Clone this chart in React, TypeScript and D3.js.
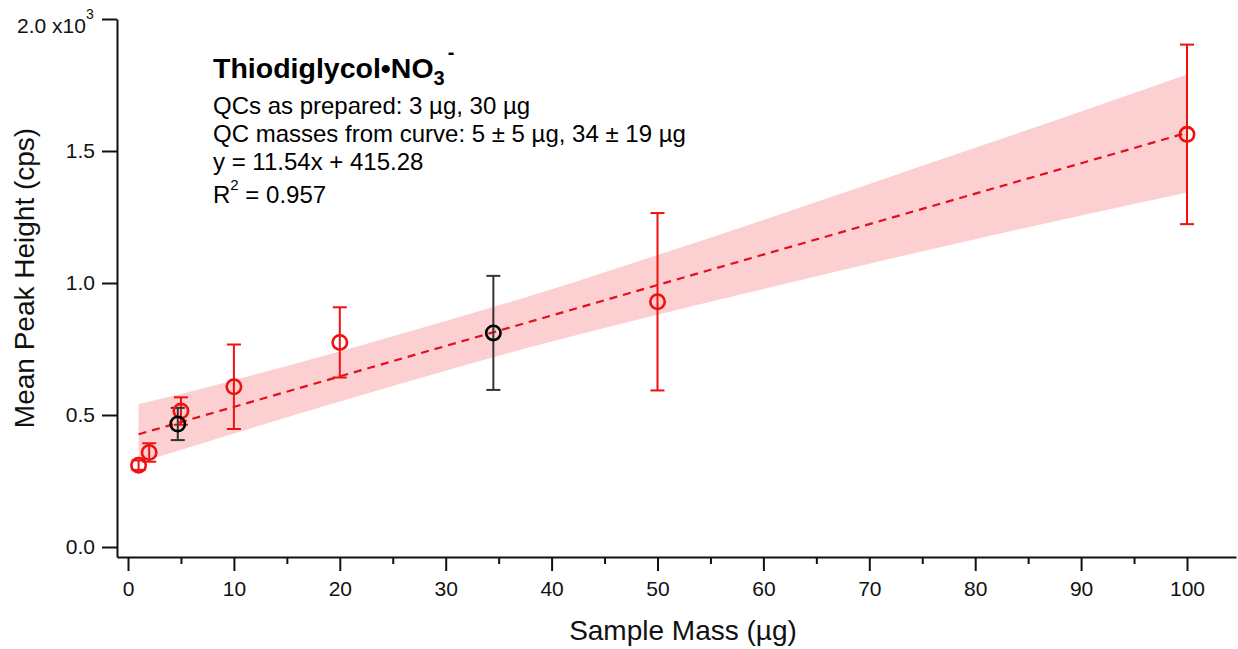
import React, { useRef, useEffect } from "react";
import * as d3 from "d3";

// calibration points (red)
const massX = [1, 2, 5, 10, 20, 50, 100];
const meanY = [310, 358, 515, 607, 775, 929, 1563];
const errY = [18, 35, 52, 160, 133, 336, 340];

// QC samples (black), plotted at mass from curve
const qcX = [4.7, 34.5];
const qcY = [466, 811];
const qcErr = [61, 216];

// fit line end points and confidence band
const fitX = [1, 100];
const fitY = [427, 1569];
const bandX = [1, 5, 10, 20, 30, 40, 50, 60, 70, 80, 90, 100];
const bandUpper = [542, 580, 632, 741, 856, 976, 1106, 1239, 1375, 1512, 1650, 1790];
const bandLower = [320, 367, 430, 551, 668, 778, 880, 977, 1073, 1166, 1256, 1343];

const xTicks = [0, 10, 20, 30, 40, 50, 60, 70, 80, 90, 100];
const xMinor = [5, 15, 25, 35, 45, 55, 65, 75, 85, 95];
const yTicks = [0, 500, 1000, 1500, 2000];

const FONT = "'Liberation Sans', Arial, sans-serif";

function CalibrationChart() {
    const xAxisRef = useRef(null);
    const xMinorRef = useRef(null);
    const yAxisRef = useRef(null);

    const width = 1238;
    const height = 649;
    const left = 117;
    const right = 1236;
    const top = 19;
    const bottom = 557;

    const x = d3.scaleLinear().domain([0, 100]).range([128, 1187]);
    const y = d3.scaleLinear().domain([0, 2000]).range([547, 19]);

    useEffect(() => {
        let xa = x.copy().domain([x.invert(left), x.invert(right)]).range([left, right]);
        let ya = y.copy().domain([y.invert(bottom), 2000]).range([bottom, top]);

        let gx = d3.select(xAxisRef.current);
        gx.selectAll("*").remove();
        gx.call(
            d3.axisBottom(xa).tickValues(xTicks).tickSize(14).tickPadding(10).tickSizeOuter(0)
        );
        gx.selectAll("text").attr("font-size", 21).attr("font-family", FONT).attr("fill", "#111");
        gx.selectAll("line").attr("stroke-width", 2).attr("stroke", "#111");
        gx.select(".domain").attr("stroke-width", 2).attr("stroke", "#111");

        let gm = d3.select(xMinorRef.current);
        gm.selectAll("*").remove();
        gm.call(d3.axisBottom(xa).tickValues(xMinor).tickSize(7).tickFormat(() => ""));
        gm.select(".domain").remove();
        gm.selectAll("line").attr("stroke-width", 2).attr("stroke", "#111");

        let gy = d3.select(yAxisRef.current);
        gy.selectAll("*").remove();
        gy.call(
            d3
                .axisLeft(ya)
                .tickValues(yTicks)
                .tickSize(15)
                .tickPadding(7)
                .tickSizeOuter(0)
                .tickFormat((d) => (d === 2000 ? "" : (d / 1000).toFixed(1)))
        );
        gy.selectAll("text").attr("font-size", 21).attr("font-family", FONT).attr("fill", "#111");
        gy.selectAll("line").attr("stroke-width", 2).attr("stroke", "#111");
        gy.select(".domain").attr("stroke-width", 2).attr("stroke", "#111");
    }, []);

    const band = d3
        .area()
        .x((d) => x(d[0]))
        .y0((d) => y(d[1]))
        .y1((d) => y(d[2]))
        .curve(d3.curveMonotoneX);
    const bandData = bandX.map((v, i) => [v, bandLower[i], bandUpper[i]]);

    const cap = 7;

    const errorBar = (cx, cy, e, color, key) => (
        <g key={key} stroke={color} strokeWidth={2} fill="none">
            <line x1={x(cx)} x2={x(cx)} y1={y(cy - e)} y2={y(cy + e)} />
            <line x1={x(cx) - cap} x2={x(cx) + cap} y1={y(cy + e)} y2={y(cy + e)} />
            <line x1={x(cx) - cap} x2={x(cx) + cap} y1={y(cy - e)} y2={y(cy - e)} />
        </g>
    );

    return (
        <svg width={width} height={height} style={{ display: "block" }}>
            <rect width={width} height={height} fill="#fff" />

            <path d={band(bandData)} fill="#fcd0d0" stroke="none" />

            <line
                x1={x(fitX[0])}
                y1={y(fitY[0])}
                x2={x(fitX[1])}
                y2={y(fitY[1])}
                stroke="#e0101f"
                strokeWidth={2.2}
                strokeDasharray="8,6"
            />

            {massX.map((v, i) => errorBar(v, meanY[i], errY[i], "#f01010", "e" + i))}
            {qcX.map((v, i) => errorBar(v, qcY[i], qcErr[i], "#333", "q" + i))}

            {massX.map((v, i) => (
                <circle
                    key={"c" + i}
                    cx={x(v)}
                    cy={y(meanY[i])}
                    r={7.2}
                    fill="none"
                    stroke="#f01010"
                    strokeWidth={2.6}
                />
            ))}
            {qcX.map((v, i) => (
                <circle
                    key={"k" + i}
                    cx={x(v)}
                    cy={y(qcY[i])}
                    r={7.2}
                    fill="none"
                    stroke="#000"
                    strokeWidth={2.6}
                />
            ))}

            <g ref={xAxisRef} transform={`translate(0,${bottom})`} />
            <g ref={xMinorRef} transform={`translate(0,${bottom})`} />
            <g ref={yAxisRef} transform={`translate(${left},0)`} />

            {/* top tick label with exponent */}
            <text x={17} y={33} fontFamily={FONT} fontSize={21} fill="#111">
                2.0 x10
                <tspan fontSize={14} dy={-14}>3</tspan>
            </text>

            {/* annotation */}
            <g fontFamily={FONT} fill="#000">
                <text x={213} y={78} fontSize={28.5} fontWeight="bold">
                    Thiodiglycol•NO
                    <tspan fontSize={20} dy={7}>3</tspan>
                    <tspan fontSize={20} dy={-26} dx={3}>-</tspan>
                </text>
                <text x={213} y={114} fontSize={24}>QCs as prepared: 3 µg, 30 µg</text>
                <text x={213} y={142} fontSize={24}>QC masses from curve: 5 ± 5 µg, 34 ± 19 µg</text>
                <text x={213} y={170} fontSize={24}>y = 11.54x + 415.28</text>
                <text x={213} y={203} fontSize={24}>
                    R<tspan fontSize={15} dy={-13}>2</tspan>
                    <tspan dy={13}> = 0.957</tspan>
                </text>
            </g>

            {/* axis titles */}
            <text
                transform={`translate(34,278) rotate(-90)`}
                textAnchor="middle"
                fontFamily={FONT}
                fontSize={28}
                fill="#111"
            >
                Mean Peak Height (cps)
            </text>
            <text x={683} y={640} textAnchor="middle" fontFamily={FONT} fontSize={28} fill="#111">
                Sample Mass (µg)
            </text>
        </svg>
    );
}

export default function App() {
    return (
        <div style={{ position: "absolute", left: 0, top: 0 }}>
            <CalibrationChart />
        </div>
    );
}
